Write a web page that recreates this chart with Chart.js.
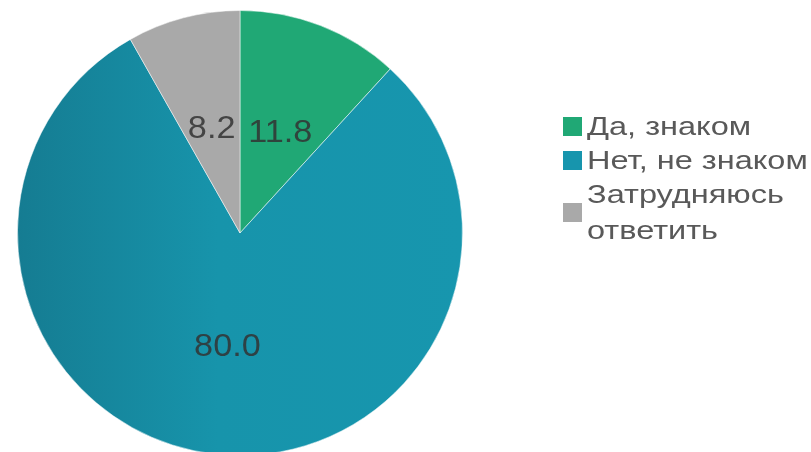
<!DOCTYPE html>
<html>
<head>
<meta charset="utf-8">
<script src="https://cdn.jsdelivr.net/npm/chart.js@4/dist/chart.umd.min.js"></script>
<style>
  html, body { margin: 0; padding: 0; background: #fff; overflow: hidden; width: 811px; height: 452px; }
  #wrap { position: absolute; left: 0; top: 0; width: 811px; height: 466px; }
  #legend { position: absolute; left: 563px; top: 108px; font-family: "Liberation Sans", Arial, sans-serif; font-size: 26px; color: #595959; }
  .item { display: flex; align-items: center; line-height: 36px; margin-bottom: -2px; }
  .box { width: 19px; height: 19px; margin-right: 5px; flex: none; }
  .txt { display: inline-block; transform: scaleX(1.25); transform-origin: left center; white-space: nowrap; }
</style>
</head>
<body>
<div id="wrap"><canvas id="pieChart" width="811" height="466"></canvas></div>
<div id="legend"></div>
<script>
const categories = ['Да, знаком', 'Нет, не знаком', 'Затрудняюсь ответить'];
const legendLines = [['Да, знаком'], ['Нет, не знаком'], ['Затрудняюсь', 'ответить']];
const values = [11.8, 80.0, 8.2];
const colors = ['#20A875', '#1795AD', '#A9A9A9'];

const pieChart = document.getElementById('pieChart');
const legend = document.getElementById('legend');

function sliceFill(context) {
  const i = context.dataIndex;
  const area = context.chart.chartArea;
  if (i !== 1 || !area) return colors[i];
  const g = context.chart.ctx.createLinearGradient(area.left, 0, area.right, 0);
  g.addColorStop(0, '#157C92');
  g.addColorStop(0.45, '#1794AB');
  g.addColorStop(1, '#1796AE');
  return g;
}

const valueLabels = {
  id: 'valueLabels',
  afterDatasetsDraw(chart) {
    const ctx = chart.ctx;
    const meta = chart.getDatasetMeta(0);
    ctx.save();
    ctx.font = '32px "Liberation Sans", Arial, sans-serif';
    ctx.fillStyle = 'rgba(50,50,50,0.85)';
    ctx.textAlign = 'center';
    ctx.textBaseline = 'middle';
    meta.data.forEach((arc, i) => {
      const pos = arc.tooltipPosition();
      ctx.save();
      ctx.translate(pos.x, pos.y + 4);
      ctx.scale(1.07, 1);
      ctx.fillText(values[i].toFixed(1), 0, 0);
      ctx.restore();
    });
    ctx.restore();
  }
};

const chart = new Chart(pieChart, {
  type: 'pie',
  data: {
    labels: categories,
    datasets: [{
      data: values,
      backgroundColor: sliceFill,
      borderColor: 'rgba(255,255,255,0.5)',
      borderWidth: 1
    }]
  },
  options: {
    responsive: false,
    animation: false,
    layout: { padding: { left: 17, right: 348, top: 10, bottom: 10 } },
    plugins: {
      legend: { display: false },
      tooltip: { enabled: false }
    }
  },
  plugins: [valueLabels]
});

legendLines.forEach((lines, i) => {
  const item = document.createElement('div');
  item.className = 'item';
  const box = document.createElement('span');
  box.className = 'box';
  box.style.background = colors[i];
  const text = document.createElement('span');
  text.className = 'txt';
  text.innerHTML = lines.join('<br>');
  item.appendChild(box);
  item.appendChild(text);
  legend.appendChild(item);
});
</script>
</body>
</html>
